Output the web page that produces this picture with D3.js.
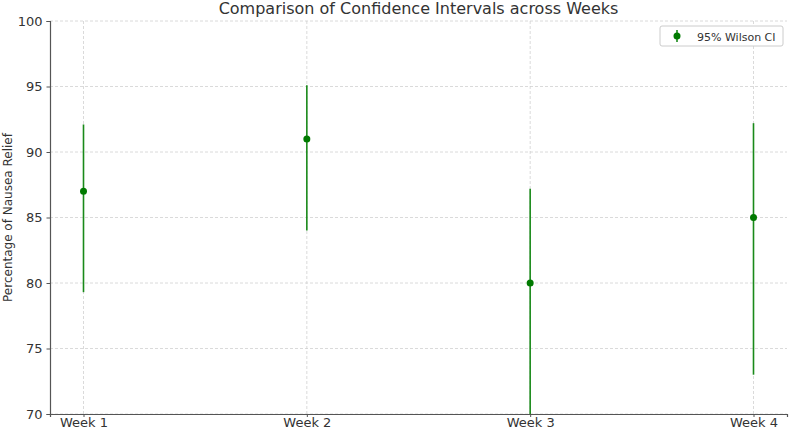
<!DOCTYPE html>
<html>
<head>
<meta charset="utf-8">
<script src="https://cdn.jsdelivr.net/npm/d3@7"></script>
<style>
  body { margin: 0; background: #fff; }
  text { font-family: "DejaVu Sans", sans-serif; fill: #333; }
</style>
</head>
<body>
<div id="chart"></div>
<script>
// data
const weeks = ["Week 1", "Week 2", "Week 3", "Week 4"];
const relief = [87, 91, 80, 85];
const ciLower = [79.3, 84.0, 68.8, 73.0];
const ciUpper = [92.1, 95.1, 87.2, 92.2];
const yTicks = [70, 75, 80, 85, 90, 95, 100];

const margin = {top: 21, right: 2, bottom: 16, left: 50},
      width = 789 - margin.left - margin.right,
      height = 430 - margin.top - margin.bottom;

const svg = d3.select("#chart")
  .append("svg")
  .attr("width", 789)
  .attr("height", 430)
  .append("g")
  .attr("transform", `translate(${margin.left}, ${margin.top})`);

// x: categories as 0..3 with 5% padding like matplotlib
const x = d3.scaleLinear().domain([-0.15, 3.15]).range([0, width]);
const y = d3.scaleLinear().domain([70, 100]).range([height, 0]);

// grid
svg.append("g")
  .selectAll("line.hgrid")
  .data(yTicks)
  .join("line")
  .attr("x1", 0).attr("x2", width)
  .attr("y1", d => y(d)).attr("y2", d => y(d))
  .attr("stroke", "#d0d0d0").attr("stroke-width", 0.8)
  .attr("stroke-dasharray", "3,2");

svg.append("g")
  .selectAll("line.vgrid")
  .data(weeks)
  .join("line")
  .attr("x1", (d, i) => x(i)).attr("x2", (d, i) => x(i))
  .attr("y1", 0).attr("y2", height)
  .attr("stroke", "#d0d0d0").attr("stroke-width", 0.8)
  .attr("stroke-dasharray", "3,2");

// clip for error bars
svg.append("clipPath").attr("id", "clip")
  .append("rect").attr("width", width).attr("height", height);

const marks = svg.append("g").attr("clip-path", "url(#clip)");

marks.selectAll("line.err")
  .data(weeks)
  .join("line")
  .attr("x1", (d, i) => x(i)).attr("x2", (d, i) => x(i))
  .attr("y1", (d, i) => y(ciLower[i]))
  .attr("y2", (d, i) => y(ciUpper[i]))
  .attr("stroke", "#1a8a1a").attr("stroke-width", 1.6);

marks.selectAll("circle")
  .data(weeks)
  .join("circle")
  .attr("cx", (d, i) => x(i))
  .attr("cy", (d, i) => y(relief[i]))
  .attr("r", 3.5)
  .attr("fill", "#007a00");

// axes
const yAxis = svg.append("g")
  .call(d3.axisLeft(y).tickValues(yTicks).tickSize(3.5).tickPadding(4));
const xAxis = svg.append("g")
  .attr("transform", `translate(0, ${height})`)
  .call(d3.axisBottom(x).tickValues([0, 1, 2, 3]).tickFormat(i => weeks[i]).tickSize(3).tickPadding(1));

[xAxis, yAxis].forEach(a => {
  a.select(".domain").attr("stroke", "#555").attr("stroke-width", 1.2);
  a.selectAll(".tick line").attr("stroke", "#555");
  a.selectAll("text").style("font-size", "13px").attr("fill", "#333");
});

// title
svg.append("text")
  .attr("x", width / 2)
  .attr("y", -7)
  .attr("text-anchor", "middle")
  .style("font-size", "16px")
  .text("Comparison of Confidence Intervals across Weeks");

// y label
svg.append("text")
  .attr("transform", `translate(${-38}, ${height / 2}) rotate(-90)`)
  .attr("text-anchor", "middle")
  .style("font-size", "12px")
  .text("Percentage of Nausea Relief");

// legend
const lg = svg.append("g").attr("transform", `translate(${610}, ${5})`);
lg.append("rect")
  .attr("width", 123).attr("height", 20).attr("rx", 2)
  .attr("fill", "#fff").attr("stroke", "#ccc");
lg.append("line")
  .attr("x1", 17).attr("x2", 17).attr("y1", 4).attr("y2", 16)
  .attr("stroke", "#1a8a1a").attr("stroke-width", 1.6);
lg.append("circle")
  .attr("cx", 17).attr("cy", 10).attr("r", 3.5).attr("fill", "#007a00");
lg.append("text")
  .attr("x", 37).attr("y", 14.5)
  .style("font-size", "11px")
  .text("95% Wilson CI");
</script>
</body>
</html>
